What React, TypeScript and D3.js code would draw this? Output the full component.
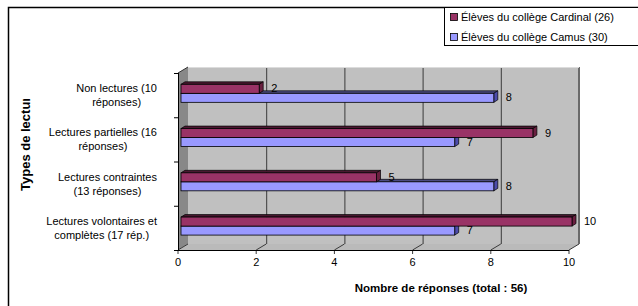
import { useEffect, useRef } from "react"
import * as d3 from "d3"

// categories, top to bottom, already wrapped as in the source chart
const categoryLines = [
    ["Non lectures (10", "réponses)"],
    ["Lectures partielles (16", "réponses)"],
    ["Lectures contraintes", "(13 réponses)"],
    ["Lectures volontaires et", "complètes (17 rép.)"],
]
const categories = categoryLines.map(l => l.join(" "))
const cardinalValues = [2, 9, 5, 10]
const camusValues = [8, 7, 8, 7]
const seriesNames = ["Élèves du collège Cardinal (26)", "Élèves du collège Camus (30)"]
const xTicks = [0, 2, 4, 6, 8, 10]

const FONT = "'Liberation Sans', Arial, sans-serif"

export default function App() {
    const ref = useRef<SVGSVGElement | null>(null)

    useEffect(() => {
        const svg = d3.select(ref.current)
        svg.selectAll("*").remove()

        const x = d3.scaleLinear().domain([0, 10]).range([178, 569])
        const y = d3.scaleBand().domain(categories).range([73, 250])
        const yTop = 73, yBot = 250
        const dx = 10, dy = -6 // wall depth
        const fx = 3, fy = -1.8 // bar front offset
        const bdx = 4, bdy = -2.5 // bar depth
        const barH = 9

        // outer frame
        svg.append("rect")
            .attr("x", 8.5).attr("y", 7.5)
            .attr("width", 700).attr("height", 400)
            .attr("fill", "white").attr("stroke", "black").attr("stroke-width", 1.5)

        const pts = (p: number[][]) => p.map(d => d.join(",")).join(" ")

        // back wall
        svg.append("polygon")
            .attr("points", pts([[x(0) + dx, yTop + dy], [x(10) + dx, yTop + dy], [x(10) + dx, yBot + dy], [x(0) + dx, yBot + dy]]))
            .attr("fill", "#c0c0c0")
        // left wall
        svg.append("polygon")
            .attr("points", pts([[x(0), yTop], [x(0) + dx, yTop + dy], [x(0) + dx, yBot + dy], [x(0), yBot]]))
            .attr("fill", "#888888")
        // floor
        svg.append("polygon")
            .attr("points", pts([[x(0), yBot], [x(0) + dx, yBot + dy], [x(10) + dx, yBot + dy], [x(10), yBot]]))
            .attr("fill", "#bababa")

        // gridlines on back wall and floor
        const grid = svg.append("g").attr("stroke", "#3a3a3a").attr("stroke-width", 1).attr("fill", "none")
        xTicks.forEach(t => {
            if (t > 0 && t < 10) {
                grid.append("line")
                    .attr("x1", x(t) + dx + 0.5).attr("x2", x(t) + dx + 0.5)
                    .attr("y1", yTop + dy).attr("y2", yBot + dy)
            }
            grid.append("line")
                .attr("x1", x(t)).attr("y1", yBot)
                .attr("x2", x(t) + dx).attr("y2", yBot + dy)
            grid.append("line")
                .attr("x1", x(t)).attr("y1", yBot)
                .attr("x2", x(t)).attr("y2", yBot + 4)
        })
        // wall edges
        svg.append("line")
            .attr("x1", x(10) + dx).attr("x2", x(10) + dx)
            .attr("y1", yTop + dy).attr("y2", yBot + dy)
            .attr("stroke", "#6a6a6a").attr("stroke-width", 2)
        svg.append("line")
            .attr("x1", x(0) + dx).attr("x2", x(10) + dx)
            .attr("y1", yTop + dy + 0.5).attr("y2", yTop + dy + 0.5)
            .attr("stroke", "#dcdcdc").attr("stroke-width", 1)
        svg.append("line")
            .attr("x1", x(0)).attr("y1", yTop)
            .attr("x2", x(0) + dx).attr("y2", yTop + dy)
            .attr("stroke", "#333").attr("stroke-width", 1)

        // axes
        svg.append("line")
            .attr("x1", x(0)).attr("x2", x(10))
            .attr("y1", yBot + 0.5).attr("y2", yBot + 0.5)
            .attr("stroke", "black")
        svg.append("line")
            .attr("x1", x(0) + 0.5).attr("x2", x(0) + 0.5)
            .attr("y1", yTop).attr("y2", yBot)
            .attr("stroke", "black")
        const bounds = [...categories.map(c => y(c) as number), yBot]
        bounds.forEach(b => {
            svg.append("line")
                .attr("x1", x(0) - 4).attr("x2", x(0))
                .attr("y1", b + 0.5).attr("y2", b + 0.5)
                .attr("stroke", "black")
        })

        // x tick labels
        svg.append("g")
            .selectAll("text")
            .data(xTicks)
            .join("text")
            .attr("x", d => x(d))
            .attr("y", yBot + 16)
            .attr("text-anchor", "middle")
            .attr("font-family", FONT)
            .attr("font-size", 11)
            .text(d => d)

        // bars
        const drawBar = (g: any, v: number, top: number, front: string, topFill: string, side: string) => {
            const x0 = x(0) + fx, x1 = x(v) + fx
            g.append("polygon")
                .attr("points", pts([[x0, top], [x0 + bdx, top + bdy], [x1 + bdx, top + bdy], [x1, top]]))
                .attr("fill", topFill).attr("stroke", "black").attr("stroke-width", 0.7)
            g.append("polygon")
                .attr("points", pts([[x1, top], [x1 + bdx, top + bdy], [x1 + bdx, top + barH + bdy], [x1, top + barH]]))
                .attr("fill", side).attr("stroke", "black").attr("stroke-width", 0.7)
            g.append("rect")
                .attr("x", x0).attr("y", top)
                .attr("width", x1 - x0).attr("height", barH)
                .attr("fill", front).attr("stroke", "black").attr("stroke-width", 0.8)
            g.append("text")
                .attr("x", x(v) + 15)
                .attr("y", top + barH / 2 - 0.5)
                .attr("dominant-baseline", "central")
                .attr("font-family", FONT)
                .attr("font-size", 11)
                .text(v)
        }

        const bars = svg.append("g")
        categories.forEach((c, i) => {
            const mid = (y(c) as number) + y.bandwidth() / 2 + fy
            drawBar(bars, camusValues[i], mid, "#9999ff", "#4c4c80", "#4c4caa")
            drawBar(bars, cardinalValues[i], mid - barH, "#993366", "#4a1830", "#6a2040")
        })

        // category labels: lines centred on each other, block right-aligned
        categoryLines.forEach((lines, i) => {
            const mid = (y(categories[i]) as number) + y.bandwidth() / 2
            const t = svg.append("text")
                .attr("font-family", FONT)
                .attr("font-size", 11)
                .attr("text-anchor", "middle")
            const spans = lines.map((l, j) =>
                t.append("tspan")
                    .attr("x", 0)
                    .attr("y", mid - 7 + j * 14)
                    .attr("dominant-baseline", "central")
                    .text(l)
            )
            const w = d3.max(spans, s => (s.node() as SVGTSpanElement).getComputedTextLength()) ?? 0
            spans.forEach(s => s.attr("x", 157 - w / 2))
        })

        // axis titles
        svg.append("text")
            .attr("x", 441).attr("y", 292)
            .attr("text-anchor", "middle")
            .attr("font-family", FONT)
            .attr("font-size", 11.5)
            .attr("font-weight", "bold")
            .text("Nombre de réponses (total : 56)")

        // the y title is cut at the top in the source chart
        svg.append("clipPath").attr("id", "ytitle-clip")
            .append("rect").attr("x", 0).attr("y", 99).attr("width", 60).attr("height", 200)
        svg.append("g")
            .attr("clip-path", "url(#ytitle-clip)")
            .append("text")
            .attr("transform", "translate(30,191) rotate(-90)")
            .attr("font-family", FONT)
            .attr("font-size", 13)
            .attr("font-weight", "bold")
            .text("Types de lecture")

        // legend
        const legend = svg.append("g")
        legend.append("rect")
            .attr("x", 444.5).attr("y", 7.5)
            .attr("width", 220).attr("height", 38)
            .attr("fill", "white").attr("stroke", "black")
        const colors = ["#993366", "#9999ff"]
        seriesNames.forEach((s, i) => {
            legend.append("rect")
                .attr("x", 450.5).attr("y", 13.5 + i * 20)
                .attr("width", 7).attr("height", 7)
                .attr("fill", colors[i]).attr("stroke", "black").attr("stroke-width", 0.8)
            legend.append("text")
                .attr("x", 461).attr("y", 17 + i * 20)
                .attr("dominant-baseline", "central")
                .attr("font-family", FONT)
                .attr("font-size", 11)
                .text(s)
        })
    }, [])

    return (
        <svg
            ref={ref}
            width={638}
            height={306}
            style={{ position: "absolute", left: 0, top: 0, background: "white" }}
        />
    )
}
